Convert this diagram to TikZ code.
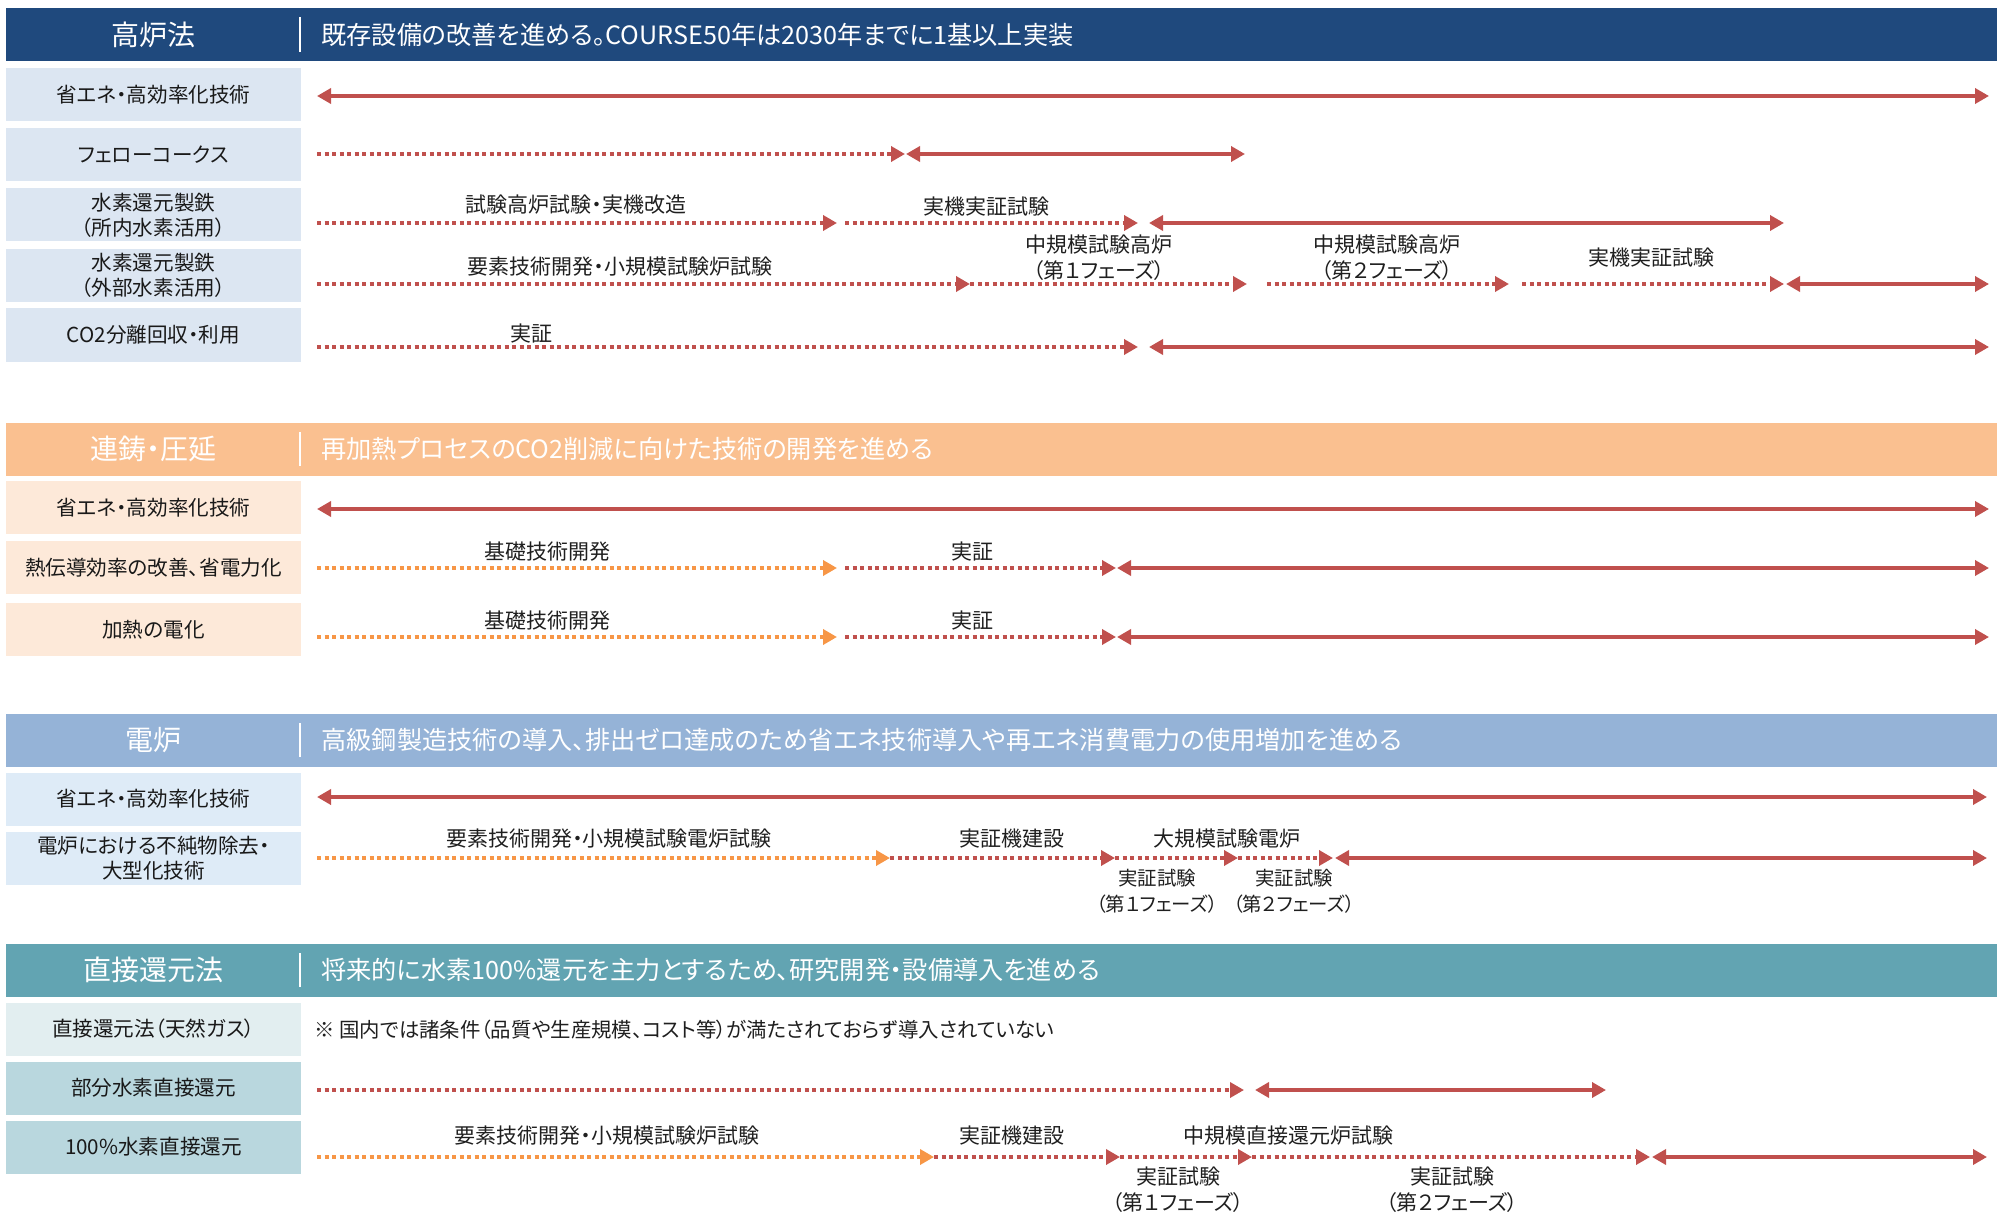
\documentclass[tikz,border=0pt]{standalone}
\usepackage{fontspec}
\setmainfont{Noto Sans CJK JP}[RawFeature={+palt}]
\usetikzlibrary{arrows.meta}
\definecolor{navy}{HTML}{1F497D}
\definecolor{hdrB}{HTML}{FAC090}
\definecolor{hdrC}{HTML}{95B3D7}
\definecolor{hdrD}{HTML}{62A4B2}
\definecolor{rowA}{HTML}{DCE6F2}
\definecolor{rowB}{HTML}{FDE9D9}
\definecolor{rowC}{HTML}{DEEBF7}
\definecolor{rowDa}{HTML}{E2EEF0}
\definecolor{rowDb}{HTML}{B9D7DE}
\definecolor{arrred}{HTML}{C0504D}
\definecolor{arrorange}{HTML}{F79646}
\newcommand\MySeg[5]{\coordinate (#2s) at (#3,#5); \coordinate (#2e) at (#4,#5); \draw[#1] (#2s) -- (#2e);}
\begin{document}
\begin{tikzpicture}[x=0.5pt,y=-0.5pt,
  hdr/.style={minimum width=995.5pt, minimum height=26.5pt, inner sep=0pt, draw=none},
  hdrtitle/.style={text=white, font=\fontsize{14pt}{16pt}\selectfont, inner sep=0pt},
  hdrdesc/.style={text=white, font=\fontsize{12.6pt}{14pt}\selectfont, anchor=west, inner sep=0pt},
  divider/.style={white, line width=0.75pt},
  rowlab/.style={minimum width=147.5pt, minimum height=26.5pt, inner sep=0pt, align=center, font=\fontsize{10.3pt}{12.5pt}\selectfont, text=black!90},
  lab/.style={font=\fontsize{10.5pt}{13pt}\selectfont, align=center, inner sep=0pt, text=black!88},
  labsm/.style={font=\fontsize{9.7pt}{13pt}\selectfont, align=center, inner sep=0pt, text=black!88},
  note/.style={font=\fontsize{10.2pt}{13pt}\selectfont, anchor=west, inner sep=0pt, text=black!88},
  solidarr/.style={draw=arrred, line width=1.75pt, {Triangle[length=7pt,width=7.5pt]}-{Triangle[length=7pt,width=7.5pt]}},
  dotred/.style={draw=arrred, line width=2pt, dash pattern=on 2pt off 1.75pt, -{Triangle[length=7pt,width=7.5pt]}},
  dotorange/.style={draw=arrorange, line width=2pt, dash pattern=on 2pt off 1.75pt, -{Triangle[length=7pt,width=7.5pt]}}
]
\useasboundingbox (0,0) rectangle (1997,1214);

% ===== Section 1 =====
\node[hdr, fill=navy] (h1) at (1001.5,34.5) {};
\node[hdrtitle] (h1t) at (153.5,34.5) {高炉法};
\draw[divider] (300,17) -- (300,52);
\node[hdrdesc] (h1d) at (321,34.5) {既存設備の改善を進める。COURSE50年は2030年までに1基以上実装};

\node[rowlab, fill=rowA] (r11) at (153.5,95) {省エネ・高効率化技術};
\node[rowlab, fill=rowA] (r12) at (153.5,154.5) {フェローコークス};
\node[rowlab, fill=rowA] (r13) at (153.5,215) {水素還元製鉄\\（所内水素活用）};
\node[rowlab, fill=rowA] (r14) at (153.5,275.5) {水素還元製鉄\\（外部水素活用）};
\node[rowlab, fill=rowA] (r15) at (153.5,335) {CO2分離回収・利用};

\MySeg{solidarr}{a11}{317}{1989}{96}
\MySeg{dotred}{a12a}{317}{905}{154}
\MySeg{solidarr}{a12b}{906}{1245}{154}
\MySeg{dotred}{a13a}{317}{837}{223}
\MySeg{dotred}{a13b}{845}{1138}{223}
\MySeg{solidarr}{a13c}{1149}{1784}{223}
\MySeg{dotred}{a14a}{317}{970}{284}
\MySeg{dotred}{a14b}{970}{1247}{284}
\MySeg{dotred}{a14c}{1267}{1509}{284}
\MySeg{dotred}{a14d}{1522}{1784}{284}
\MySeg{solidarr}{a14e}{1786}{1989}{284}
\MySeg{dotred}{a15a}{317}{1138}{347}
\MySeg{solidarr}{a15b}{1149}{1989}{347}

\node[lab] (l13a) at (576,205) {試験高炉試験・実機改造};
\node[lab] (l13b) at (986,207) {実機実証試験};
\node[lab] (l14a) at (620,267) {要素技術開発・小規模試験炉試験};
\node[lab] (l14b) at (1099,258) {中規模試験高炉\\（第１フェーズ）};
\node[lab] (l14c) at (1387,258) {中規模試験高炉\\（第２フェーズ）};
\node[lab] (l14d) at (1651,258) {実機実証試験};
\node[lab] (l15a) at (531,334) {実証};

% ===== Section 2 =====
\node[hdr, fill=hdrB] (h2) at (1001.5,449) {};
\node[hdrtitle] (h2t) at (153.5,449) {連鋳・圧延};
\draw[divider] (300,432) -- (300,466);
\node[hdrdesc] (h2d) at (321,449) {再加熱プロセスのCO2削減に向けた技術の開発を進める};

\node[rowlab, fill=rowB] (r21) at (153.5,507.5) {省エネ・高効率化技術};
\node[rowlab, fill=rowB] (r22) at (153.5,567.5) {熱伝導効率の改善、省電力化};
\node[rowlab, fill=rowB] (r23) at (153.5,629.5) {加熱の電化};

\MySeg{solidarr}{a21}{317}{1989}{509}
\MySeg{dotorange}{a22a}{317}{837}{568}
\MySeg{dotred}{a22b}{845}{1116}{568}
\MySeg{solidarr}{a22c}{1117}{1989}{568}
\MySeg{dotorange}{a23a}{317}{837}{637}
\MySeg{dotred}{a23b}{845}{1116}{637}
\MySeg{solidarr}{a23c}{1117}{1989}{637}

\node[lab] (l22a) at (547,552) {基礎技術開発};
\node[lab] (l22b) at (972,552) {実証};
\node[lab] (l23a) at (547,621) {基礎技術開発};
\node[lab] (l23b) at (972,621) {実証};

% ===== Section 3 =====
\node[hdr, fill=hdrC] (h3) at (1001.5,740) {};
\node[hdrtitle] (h3t) at (153.5,740) {電炉};
\draw[divider] (300,723) -- (300,757);
\node[hdrdesc] (h3d) at (321,740) {高級鋼製造技術の導入、排出ゼロ達成のため省エネ技術導入や再エネ消費電力の使用増加を進める};

\node[rowlab, fill=rowC] (r31) at (153.5,799) {省エネ・高効率化技術};
\node[rowlab, fill=rowC] (r32) at (153.5,858) {電炉における不純物除去・\\大型化技術};

\MySeg{solidarr}{a31}{317}{1987}{797}
\MySeg{dotorange}{a32a}{317}{890}{858}
\MySeg{dotred}{a32b}{890}{1115}{858}
\MySeg{dotred}{a32c}{1115}{1238}{858}
\MySeg{dotred}{a32d}{1238}{1333}{858}
\MySeg{solidarr}{a32e}{1335}{1987}{858}

\node[lab] (l32a) at (609,839) {要素技術開発・小規模試験電炉試験};
\node[lab] (l32b) at (1012,839) {実証機建設};
\node[lab] (l32c) at (1227,839) {大規模試験電炉};
\node[labsm] (l32d) at (1157,891) {実証試験\\（第１フェーズ）};
\node[labsm] (l32e) at (1294,891) {実証試験\\（第２フェーズ）};

% ===== Section 4 =====
\node[hdr, fill=hdrD] (h4) at (1001.5,970) {};
\node[hdrtitle] (h4t) at (153.5,970) {直接還元法};
\draw[divider] (300,953) -- (300,987);
\node[hdrdesc] (h4d) at (321,970) {将来的に水素100\%還元を主力とするため、研究開発・設備導入を進める};

\node[rowlab, fill=rowDa] (r41) at (153.5,1029) {直接還元法（天然ガス）};
\node[rowlab, fill=rowDb] (r42) at (153.5,1088) {部分水素直接還元};
\node[rowlab, fill=rowDb] (r43) at (153.5,1147) {100\%水素直接還元};

\node[note] (n41) at (314,1030) {※ 国内では諸条件（品質や生産規模、コスト等）が満たされておらず導入されていない};

\MySeg{dotred}{a42a}{317}{1244}{1090}
\MySeg{solidarr}{a42b}{1255}{1606}{1090}
\MySeg{dotorange}{a43a}{317}{934}{1157}
\MySeg{dotred}{a43b}{934}{1120}{1157}
\MySeg{dotred}{a43c}{1120}{1252}{1157}
\MySeg{dotred}{a43d}{1252}{1650}{1157}
\MySeg{solidarr}{a43e}{1652}{1987}{1157}

\node[lab] (l43a) at (607,1136) {要素技術開発・小規模試験炉試験};
\node[lab] (l43b) at (1012,1136) {実証機建設};
\node[lab] (l43c) at (1288,1136) {中規模直接還元炉試験};
\node[lab] (l43d) at (1178,1190) {実証試験\\（第１フェーズ）};
\node[lab] (l43e) at (1452,1190) {実証試験\\（第２フェーズ）};
\end{tikzpicture}
\end{document}
